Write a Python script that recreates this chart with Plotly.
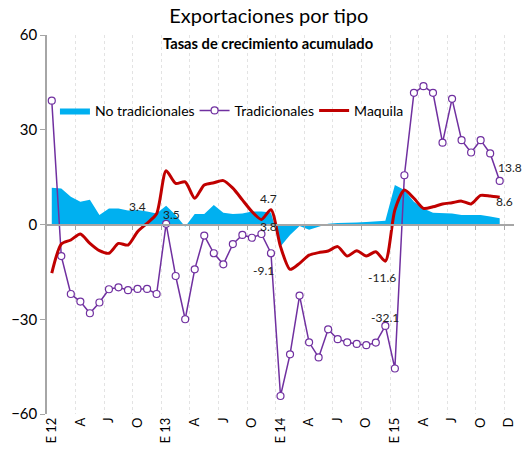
import plotly.graph_objects as go

# meses: enero 2012 a diciembre 2015 (indice 0..47), eje con una categoria extra al final
tick_vals = list(range(0, 49, 3))
tick_text = ["E 12", "A", "J", "O", "E 13", "A", "J", "O", "E 14", "A", "J", "O",
             "E 15", "A", "J", "O", "D"]

no_tradicionales = [11.6, 11.4, 8.8, 7.2, 7.8, 3.0, 5.1, 5.1, 4.4, 4.6, 4.1, 3.5,
                    5.9, 3.0, -0.7, 3.3, 3.3, 6.2, 3.7, 3.3, 3.5, 4.1, 4.1, 3.8,
                    -7.0, -3.3, -0.5, -1.7, -0.7, 0.2, 0.5, 0.5, 0.6, 0.8, 1.0, 1.2,
                    12.5, 10.9, 7.2, 5.1, 3.7, 3.5, 3.5, 3.0, 3.0, 3.0, 2.5, 2.0]

tradicionales = [39.2, -10.0, -22.0, -24.4, -28.1, -24.7, -20.5, -19.9, -20.8, -20.4, -20.4, -22.0,
                 0.2, -16.3, -30.0, -14.2, -3.5, -9.1, -12.6, -6.2, -3.3, -4.2, -3.0, -9.1,
                 -54.3, -41.1, -22.5, -37.3, -42.1, -33.2, -36.3, -37.3, -37.8, -38.2, -37.4, -32.1,
                 -45.6, 15.6, 41.7, 43.8, 41.7, 25.9, 39.8, 26.7, 22.8, 26.7, 22.5, 13.8]

maquila = [-15.4, -6.2, -4.9, -3.0, -6.0, -8.3, -9.1, -6.0, -6.5, -2.3, 0.4, 3.4,
           17.0, 13.0, 13.5, 8.3, 12.5, 13.2, 13.9, 11.5, 7.8, 4.1, 1.6, 4.7,
           -7.0, -14.2, -12.3, -9.7, -8.9, -8.4, -7.0, -10.0, -8.3, -10.0, -8.6, -11.6,
           4.6, 10.9, 8.3, 5.1, 5.6, 6.5, 6.9, 7.4, 6.5, 9.2, 9.0, 8.6]

meses = list(range(len(tradicionales)))
fuente = "Lato, 'Liberation Sans Narrow', sans-serif"

fig = go.Figure()
fig.add_trace(go.Scatter(x=meses, y=no_tradicionales, name="No tradicionales",
                         mode="lines", fill="tozeroy", fillcolor="#00B0F0",
                         line=dict(width=0, color="#00B0F0"), legend="legend"))
fig.add_trace(go.Scatter(x=meses, y=tradicionales, name="Tradicionales",
                         mode="lines+markers",
                         line=dict(color="#7030A0", width=1.5),
                         marker=dict(symbol="circle", size=7, color="white",
                                     line=dict(color="#7030A0", width=1.2)),
                         legend="legend2"))
fig.add_trace(go.Scatter(x=meses, y=maquila, name="Maquila", mode="lines",
                         line=dict(color="#C00000", width=3, shape="spline", smoothing=0.7),
                         legend="legend3"))
# eje que cruza en cero, con marcas entre trimestres
fig.add_trace(go.Scatter(x=[], y=[], xaxis="x2", showlegend=False, hoverinfo="skip"))

# etiquetas de diciembre: (serie, indice, desplazamiento x, desplazamiento y)
series = {"nt": no_tradicionales, "t": tradicionales, "m": maquila}
etiquetas = [("m", 11, -19, 7), ("nt", 11, 15, -1), ("m", 23, -2, 11), ("nt", 23, -2, -14),
             ("t", 23, -7, -17), ("m", 35, -3, -16), ("t", 35, 0, 8), ("t", 47, 10, 13),
             ("m", 47, 5, -4)]
for s, i, dx, dy in etiquetas:
    v = series[s][i]
    fig.add_annotation(x=i, y=v, text=f"{v:.1f}", showarrow=False, xshift=dx, yshift=dy,
                       font=dict(size=12, color="#222", family=fuente))

fig.add_annotation(text="<b>Tasas de crecimiento acumulado</b>", xref="paper", yref="paper",
                   x=0.473, y=1, yshift=-8, showarrow=False, yanchor="middle",
                   font=dict(size=14.7, family=fuente, color="black"))

leyenda = dict(orientation="h", y=0.80, yanchor="middle", xanchor="left",
               font=dict(size=14, family=fuente), bgcolor="rgba(0,0,0,0)", itemwidth=30)

fig.update_layout(
    width=524, height=459,
    margin=dict(l=47, r=8, t=35, b=45),
    paper_bgcolor="white", plot_bgcolor="white",
    font=dict(family=fuente, color="black"),
    title=dict(text="Exportaciones por tipo", x=0.513, xanchor="center",
               yref="container", y=0.965, yanchor="middle",
               font=dict(size=20, family=fuente)),
    legend=dict(leyenda, x=0.017),
    legend2=dict(leyenda, x=0.316),
    legend3=dict(leyenda, x=0.572),
    showlegend=True,
    xaxis=dict(range=[-0.5, 48.5], tickvals=tick_vals, ticktext=tick_text, tickangle=-90,
               showgrid=False, zeroline=False, showline=False, ticks="",
               tickfont=dict(size=13, family=fuente),
               minor=dict(tick0=-0.5, dtick=3, showgrid=True, gridcolor="#E3E3E3",
                          griddash="dot", gridwidth=1)),
    xaxis2=dict(range=[-0.5, 48.5], overlaying="x", anchor="free", position=0.5,
                showline=True, linecolor="#A6A6A6", linewidth=1.5,
                tickvals=[v - 0.5 for v in tick_vals[1:]], ticks="outside", ticklen=5,
                tickcolor="#A6A6A6", showticklabels=False, showgrid=False, zeroline=False),
    yaxis=dict(range=[-60, 60], tickvals=[-60, -30, 0, 30, 60], showgrid=False,
               zeroline=False, showline=True, linecolor="#A6A6A6", linewidth=1.5,
               ticks="outside", ticklen=5, tickcolor="#A6A6A6",
               tickfont=dict(size=15, family=fuente)),
)

fig.write_html("out.html", config={"displayModeBar": False},
               post_script="document.body.style.margin='0px';")
